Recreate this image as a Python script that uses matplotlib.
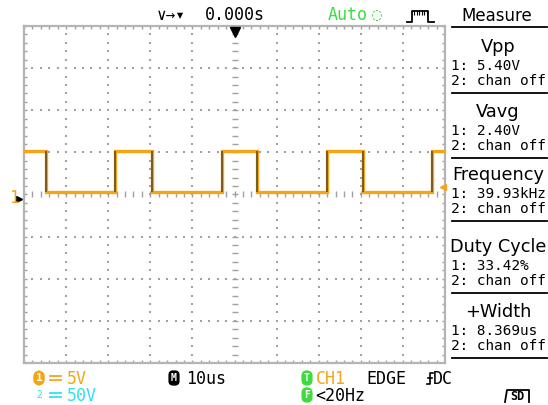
#!/usr/bin/env python3
# Oscilloscope screen capture: CH1 square wave, measure panel on the right.

import matplotlib
matplotlib.use("Agg")
import matplotlib.pyplot as plt
import numpy as np

# Trace data (time in us relative to trigger, volts relative to CH1 ground)
edge_times = [-44.8, -28.4, -19.6, -3.0, 5.3, 22.0, 30.5, 46.9]
start_high = True
level_high = 5.7
level_low = 0.8
ground_offset = -0.55      # CH1 ground marker sits slightly below centre (V)
trig_level = 1.4           # V above ground

volts_per_div = 5
us_per_div = 10

measure_names = ["Vpp", "Vavg", "Frequency", "Duty Cycle", "+Width"]
measure_ch1 = ["1: 5.40V", "1: 2.40V", "1: 39.93kHz", "1: 33.42%", "1: 8.369us"]
measure_ch2 = ["2: chan off"] * 5

W, H = 548, 405
ORANGE = "#f5a418"
GREEN = "#3ddc3d"
CYAN = "#2fe0f0"
GRID = "#a0a0a0"
MONO = ["DejaVu Sans Mono", "DejaVu Sans"]

fig = plt.figure(figsize=(W / 100, H / 100), dpi=100)

# ---- scope graticule ----
gx0, gx1, gy0, gy1 = 24, 445, 26, 363
ax = fig.add_axes([gx0 / W, 1 - gy1 / H, (gx1 - gx0) / W, (gy1 - gy0) / H])
ax.set_xlim(-5 * us_per_div, 5 * us_per_div)
ax.set_ylim(-4 * volts_per_div, 4 * volts_per_div)
ax.set_xticks([])
ax.set_yticks([])
ax.patch.set_alpha(0)
for s in ax.spines.values():
    s.set_color("#b4b4b4")
    s.set_linewidth(1.6)

# ---- overlay in pixel coords for the screen furniture ----
ov = fig.add_axes([0, 0, 1, 1])
ov.set_xlim(0, W)
ov.set_ylim(H, 0)
ov.axis("off")
ov.patch.set_alpha(0)
ov.set_zorder(5)

sub_x = np.arange(-50, 50.01, us_per_div / 5)
sub_y = np.arange(-20, 20.01, volts_per_div / 5)
for gx in range(-40, 41, 10):
    if gx == 0:
        continue
    ax.plot(np.full_like(sub_y, gx), sub_y, ls="none", marker="s", ms=1.5, color=GRID, mew=0)
for gy in range(-15, 16, 5):
    if gy == 0:
        continue
    ax.plot(sub_x, np.full_like(sub_x, gy), ls="none", marker="s", ms=1.5, color=GRID, mew=0)
# centre cross with minor ticks
ax.plot(np.zeros_like(sub_y), sub_y, ls="none", marker="_", ms=4, color=GRID, mew=1)
ax.plot(sub_x, np.zeros_like(sub_x), ls="none", marker="|", ms=4, color=GRID, mew=1)
# border ticks
ax.plot(sub_x, np.full_like(sub_x, 20), ls="none", marker="|", ms=4, color=GRID, mew=1)
ax.plot(sub_x, np.full_like(sub_x, -20), ls="none", marker="|", ms=4, color=GRID, mew=1)
ax.plot(np.full_like(sub_y, -50), sub_y, ls="none", marker="_", ms=4, color=GRID, mew=1)
ax.plot(np.full_like(sub_y, 50), sub_y, ls="none", marker="_", ms=4, color=GRID, mew=1)

# ---- trace ----
lvl = level_high if start_high else level_low
tx, ty = [-50], [lvl]
for t in edge_times:
    new = level_low if lvl == level_high else level_high
    tx += [t, t]
    ty += [lvl, new]
    lvl = new
tx.append(50)
ty.append(lvl)
ty = np.array(ty) + ground_offset
ax.plot(tx, ty, color=ORANGE, lw=2.4, solid_joinstyle="miter", zorder=5)
ax.vlines(edge_times, level_low + ground_offset, level_high + ground_offset,
          color="#7a5a22", lw=1.4, zorder=6)

# trigger position marker
ax.plot([0], [19.3], marker="v", color="black", ms=7, clip_on=False, zorder=7)
# ground marker and trigger level marker
ax.plot([-51.2], [ground_offset], marker=">", color="black", ms=5, clip_on=False)
ov.text(9, 198, "1", color=ORANGE, fontsize=12, family=MONO, va="center", ha="left")
ax.plot([49.5], [trig_level + ground_offset], marker="<", color=ORANGE, ms=5, clip_on=False, zorder=7)

# ---- top bar ----
ov.text(157, 15, "\u2228\u2192\u25be", fontsize=11.5, family=MONO, va="center", ha="left")
ov.text(205, 15, "0.000s", fontsize=12, family=MONO, va="center", ha="left")
ov.text(328, 15, "Auto", fontsize=12, family=MONO, va="center", ha="left", color=GREEN)
ov.text(372, 15, "\u25cc", fontsize=12, family=MONO, va="center", ha="left", color=GREEN)
ov.plot([407, 412, 412, 428, 428, 434], [22, 22, 11, 11, 22, 22], color="black", lw=1.3)
ov.plot(np.arange(414, 428, 2.5), np.full(6, 12.5), ls="none", marker="|", ms=2.5, color="black", mew=0.8)

# ---- measure panel ----
ov.text(497, 16, "Measure", fontsize=12, va="center", ha="center")
ov.plot([452, 547], [27, 27], color="black", lw=1.3)
name_y = [47, 112, 175, 247, 312]
for i, (nm, v1, v2) in enumerate(zip(measure_names, measure_ch1, measure_ch2)):
    y0 = name_y[i]
    ov.text(498, y0, nm, fontsize=12.8, va="center", ha="center")
    ov.text(451, y0 + 19, v1, fontsize=10.4, family=MONO, va="center", ha="left")
    ov.text(451, y0 + 34, v2, fontsize=10.4, family=MONO, va="center", ha="left")
    ov.plot([452, 547], [y0 + 46, y0 + 46], color="black", lw=1.3)

# ---- bottom bar ----
ov.text(39, 378, "1", fontsize=8, family=MONO, color="white", va="center", ha="center",
        fontweight="bold", bbox=dict(boxstyle="round,pad=0.15,rounding_size=0.5", fc=ORANGE, ec=ORANGE))
ov.text(39, 395, "2", fontsize=7, family=MONO, color=CYAN, va="center", ha="center")
for yy, col in ((378, ORANGE), (395, CYAN)):
    ov.plot([50, 61], [yy - 2, yy - 2], color=col, lw=1.3)
    ov.plot([50, 53], [yy + 1.5, yy + 1.5], color=col, lw=1.3)
    ov.plot([54.5, 57], [yy + 1.5, yy + 1.5], color=col, lw=1.3)
    ov.plot([58.5, 61], [yy + 1.5, yy + 1.5], color=col, lw=1.3)
ov.text(67, 379, "5V", fontsize=12, family=MONO, color=ORANGE, va="center", ha="left")
ov.text(67, 396, "50V", fontsize=12, family=MONO, color=CYAN, va="center", ha="left")

ov.text(174, 378, "M", fontsize=7, family=MONO, color="white", va="center", ha="center",
        fontweight="bold", bbox=dict(boxstyle="round,pad=0.2,rounding_size=0.4", fc="black", ec="black"))
ov.text(186, 379, "10us", fontsize=12, family=MONO, va="center", ha="left")

ov.text(307, 378, "T", fontsize=7, family=MONO, color="white", va="center", ha="center",
        fontweight="bold", bbox=dict(boxstyle="round,pad=0.2,rounding_size=0.5", fc=GREEN, ec=GREEN))
ov.text(316, 379, "CH1", fontsize=12, family=MONO, color=ORANGE, va="center", ha="left")
ov.text(366, 379, "EDGE", fontsize=12, family=MONO, va="center", ha="left")
ov.plot([427, 430, 430, 433], [384, 384, 373, 373], color="black", lw=1.2)
ov.plot([428, 432], [378, 378], color="black", lw=1.2)
ov.text(433, 379, "DC", fontsize=12, family=MONO, va="center", ha="left")

ov.text(307, 395, "F", fontsize=7, family=MONO, color="white", va="center", ha="center",
        fontweight="bold", bbox=dict(boxstyle="round,pad=0.2,rounding_size=0.5", fc=GREEN, ec=GREEN))
ov.text(315, 396, "<20Hz", fontsize=12, family=MONO, va="center", ha="left")

ov.text(517, 397, "SD", fontsize=8.5, family=MONO, va="center", ha="center", fontweight="bold")
ov.plot([505, 507, 529, 529], [402, 390, 390, 402], color="black", lw=1.3)

fig.savefig("out.png", dpi=100)
